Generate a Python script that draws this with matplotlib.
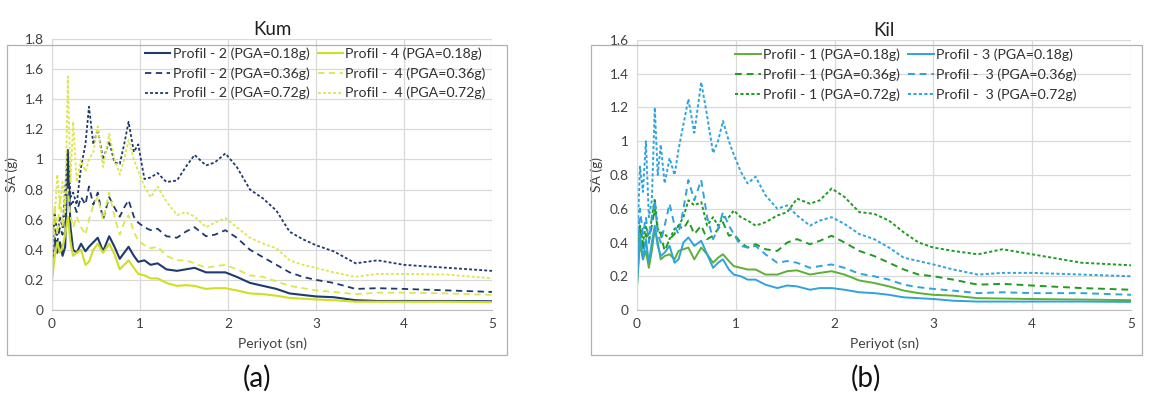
import matplotlib
matplotlib.use("Agg")
import matplotlib.pyplot as plt
import matplotlib.patches as patches

plt.rcParams['font.family'] = ['Lato', 'DejaVu Sans']

# periyot (sn)
periods = [0.00, 0.03, 0.06, 0.09, 0.12, 0.15, 0.18, 0.21, 0.24, 0.28,
           0.33, 0.38, 0.42, 0.47, 0.52, 0.58, 0.65, 0.71, 0.77, 0.82,
           0.87, 0.93, 0.98, 1.05, 1.12, 1.20, 1.30, 1.42, 1.52, 1.62,
           1.75, 1.85, 1.97, 2.10, 2.25, 2.40, 2.55, 2.70, 2.85, 3.00,
           3.20, 3.45, 3.70, 4.00, 4.50, 5.00]

# Kum
kum_p2_018 = [0.32, 0.48, 0.38, 0.45, 0.36, 0.42, 1.05, 0.55, 0.40, 0.38,
              0.44, 0.39, 0.42, 0.45, 0.48, 0.39, 0.49, 0.42, 0.34, 0.38,
              0.42, 0.36, 0.32, 0.33, 0.30, 0.31, 0.27, 0.26, 0.27, 0.28,
              0.25, 0.25, 0.25, 0.22, 0.18, 0.16, 0.14, 0.11, 0.10, 0.09,
              0.085, 0.065, 0.06, 0.06, 0.06, 0.058]
kum_p2_036 = [0.45, 0.60, 0.45, 0.55, 0.50, 0.70, 0.95, 0.70, 0.72, 0.65,
              0.75, 0.70, 0.82, 0.70, 0.78, 0.60, 0.75, 0.68, 0.62, 0.68,
              0.73, 0.62, 0.58, 0.55, 0.53, 0.54, 0.49, 0.48, 0.52, 0.55,
              0.49, 0.50, 0.53, 0.48, 0.40, 0.35, 0.30, 0.25, 0.22, 0.20,
              0.18, 0.14, 0.145, 0.14, 0.13, 0.12]
kum_p2_072 = [0.32, 0.65, 0.50, 0.62, 0.55, 0.80, 1.07, 0.75, 0.78, 0.70,
              0.95, 1.10, 1.35, 1.10, 1.20, 1.00, 1.12, 0.98, 0.97, 1.10,
              1.25, 1.05, 1.10, 0.87, 0.88, 0.91, 0.85, 0.86, 0.95, 1.03,
              0.96, 0.98, 1.04, 0.95, 0.80, 0.74, 0.66, 0.52, 0.47, 0.43,
              0.39, 0.31, 0.33, 0.30, 0.28, 0.26]
kum_p4_018 = [0.19, 0.35, 0.45, 0.38, 0.42, 0.50, 0.62, 0.45, 0.36, 0.38,
              0.40, 0.30, 0.32, 0.40, 0.44, 0.38, 0.44, 0.37, 0.27, 0.30,
              0.33, 0.28, 0.24, 0.23, 0.21, 0.21, 0.18, 0.16, 0.165, 0.16,
              0.14, 0.145, 0.145, 0.13, 0.11, 0.105, 0.095, 0.08, 0.075, 0.07,
              0.065, 0.055, 0.055, 0.055, 0.055, 0.052]
kum_p4_036 = [0.35, 0.70, 0.50, 0.75, 0.55, 0.72, 0.80, 0.62, 0.55, 0.62,
              0.55, 0.50, 0.60, 0.70, 0.75, 0.60, 0.78, 0.62, 0.50, 0.58,
              0.63, 0.52, 0.46, 0.43, 0.41, 0.42, 0.36, 0.33, 0.33, 0.31,
              0.28, 0.29, 0.30, 0.27, 0.23, 0.22, 0.19, 0.16, 0.145, 0.13,
              0.12, 0.105, 0.115, 0.115, 0.11, 0.10]
kum_p4_072 = [0.30, 0.60, 0.90, 0.70, 0.85, 0.65, 1.55, 0.85, 1.25, 0.85,
              1.00, 0.92, 1.00, 1.05, 1.22, 0.95, 1.17, 1.00, 0.90, 1.00,
              1.13, 1.00, 0.92, 0.82, 0.75, 0.82, 0.72, 0.63, 0.65, 0.62,
              0.55, 0.58, 0.61, 0.55, 0.48, 0.44, 0.41, 0.33, 0.30, 0.28,
              0.25, 0.22, 0.24, 0.24, 0.235, 0.21]

# Kil
kil_p1_018 = [0.14, 0.40, 0.30, 0.35, 0.25, 0.35, 0.48, 0.40, 0.30, 0.32,
              0.33, 0.30, 0.35, 0.36, 0.37, 0.30, 0.37, 0.33, 0.28, 0.31,
              0.33, 0.29, 0.26, 0.25, 0.24, 0.24, 0.21, 0.21, 0.23, 0.235,
              0.21, 0.22, 0.23, 0.21, 0.175, 0.16, 0.14, 0.115, 0.10, 0.09,
              0.085, 0.07, 0.068, 0.065, 0.062, 0.058]
kil_p1_036 = [0.25, 0.50, 0.35, 0.45, 0.40, 0.50, 0.60, 0.48, 0.45, 0.35,
              0.42, 0.45, 0.50, 0.48, 0.53, 0.45, 0.50, 0.42, 0.44, 0.48,
              0.52, 0.44, 0.45, 0.40, 0.37, 0.39, 0.36, 0.35, 0.40, 0.42,
              0.39, 0.41, 0.44, 0.40, 0.35, 0.32, 0.28, 0.24, 0.21, 0.20,
              0.18, 0.15, 0.155, 0.145, 0.13, 0.12]
kil_p1_072 = [0.20, 0.50, 0.40, 0.50, 0.42, 0.55, 0.66, 0.48, 0.46, 0.45,
              0.42, 0.48, 0.50, 0.55, 0.65, 0.62, 0.64, 0.50, 0.55, 0.50,
              0.55, 0.55, 0.59, 0.55, 0.53, 0.50, 0.52, 0.56, 0.58, 0.66,
              0.63, 0.65, 0.72, 0.67, 0.58, 0.57, 0.53, 0.46, 0.40, 0.37,
              0.35, 0.33, 0.36, 0.33, 0.28, 0.265]
kil_p3_018 = [0.15, 0.45, 0.30, 0.42, 0.28, 0.40, 0.50, 0.38, 0.32, 0.34,
              0.38, 0.28, 0.30, 0.40, 0.43, 0.38, 0.41, 0.33, 0.25, 0.28,
              0.30, 0.24, 0.21, 0.20, 0.18, 0.18, 0.15, 0.13, 0.145, 0.14,
              0.12, 0.13, 0.13, 0.12, 0.105, 0.10, 0.09, 0.075, 0.07, 0.065,
              0.055, 0.05, 0.05, 0.05, 0.05, 0.048]
kil_p3_036 = [0.30, 0.60, 0.45, 0.55, 0.40, 0.55, 0.65, 0.45, 0.40, 0.50,
              0.63, 0.50, 0.45, 0.60, 0.77, 0.65, 0.77, 0.55, 0.42, 0.48,
              0.58, 0.50, 0.45, 0.38, 0.37, 0.38, 0.33, 0.28, 0.29, 0.28,
              0.25, 0.26, 0.27, 0.25, 0.215, 0.20, 0.18, 0.15, 0.135, 0.125,
              0.115, 0.10, 0.105, 0.10, 0.10, 0.09]
kil_p3_072 = [0.35, 0.85, 0.70, 1.00, 0.55, 0.65, 1.20, 0.80, 0.98, 0.75,
              0.90, 0.80, 0.95, 1.10, 1.25, 1.05, 1.35, 1.15, 0.93, 1.00,
              1.12, 1.00, 0.92, 0.82, 0.75, 0.79, 0.68, 0.60, 0.62, 0.56,
              0.50, 0.53, 0.55, 0.51, 0.45, 0.42, 0.37, 0.31, 0.29, 0.27,
              0.24, 0.21, 0.22, 0.22, 0.21, 0.20]

NAVY = '#1f3a6e'
LIME = '#cfdf22'
LIME2 = '#dde64a'
GREEN = '#5cb034'
GREEN2 = '#1f9c1f'
BLUE = '#2ea3de'

styles = ['-', (0, (3.5, 2.5)), (0, (1.6, 1.2))]
pga = ['0.18', '0.36', '0.72']

fig = plt.figure(figsize=(11.5, 4), dpi=100)
W, H = 1150.0, 400.0

# panel frames
for x0, x1 in [(7, 507), (591, 1142)]:
    fig.patches.append(patches.Rectangle((x0 / W, 45 / H), (x1 - x0) / W, 310 / H,
                                         transform=fig.transFigure, fill=False,
                                         edgecolor='#b0b0b0', linewidth=0.9))


def setup(ax, ymax, title):
    ax.set_xlim(0, 5)
    ax.set_ylim(0, ymax)
    ax.set_xticks(range(6))
    n = int(round(ymax / 0.2)) + 1
    ax.set_yticks([i * 0.2 for i in range(n)])
    ax.set_yticklabels(['0' if i == 0 else ('%g' % round(i * 0.2, 1)) for i in range(n)])
    ax.grid(True, color='#d9d9d9', linewidth=0.9)
    ax.set_axisbelow(True)
    for s in ['top', 'right']:
        ax.spines[s].set_visible(False)
    ax.spines['left'].set_color('#d9d9d9')
    ax.spines['bottom'].set_color('#bfbfbf')
    ax.tick_params(length=0, labelsize=9.8, colors='#404040', pad=6)
    ax.set_xlabel('Periyot (sn)', fontsize=10, color='#404040', labelpad=5)
    ax.set_ylabel('SA (g)', fontsize=10, color='#404040', labelpad=5)
    ax.set_title(title, fontsize=13.5, color='#202020', pad=3)


leg_kw = dict(ncol=2, loc='upper right', frameon=False, fontsize=10.2,
              handlelength=1.8, handletextpad=0.15, columnspacing=0.6,
              labelspacing=0.5, labelcolor='#303030')

# (a) Kum
ax1 = fig.add_axes([52 / W, 90 / H, 440 / W, 271 / H])
setup(ax1, 1.8, 'Kum')
kum2 = [kum_p2_018, kum_p2_036, kum_p2_072]
kum4 = [kum_p4_018, kum_p4_036, kum_p4_072]
for i in range(3):
    ax1.plot(periods, kum2[i], color=NAVY, linestyle=styles[i], linewidth=1.5 if i == 0 else 1.3,
             label='Profil - 2 (PGA=%sg)' % pga[i])
for i in range(3):
    ax1.plot(periods, kum4[i], color=LIME if i == 0 else LIME2, linestyle=styles[i],
             linewidth=1.5 if i == 0 else 1.3,
             label=('Profil - 4 (PGA=%sg)' if i == 0 else 'Profil -  4 (PGA=%sg)') % pga[i])
ax1.legend(bbox_to_anchor=(1.015, 1.015), **leg_kw)

# (b) Kil
ax2 = fig.add_axes([637 / W, 90 / H, 494 / W, 270 / H])
setup(ax2, 1.6, 'Kil')
kil1 = [kil_p1_018, kil_p1_036, kil_p1_072]
kil3 = [kil_p3_018, kil_p3_036, kil_p3_072]
for i in range(3):
    ax2.plot(periods, kil1[i], color=GREEN if i == 0 else GREEN2, linestyle=styles[i],
             linewidth=1.4, label='Profil - 1 (PGA=%sg)' % pga[i])
for i in range(3):
    ax2.plot(periods, kil3[i], color=BLUE, linestyle=styles[i], linewidth=1.4,
             label=('Profil - 3 (PGA=%sg)' if i == 0 else 'Profil -  3 (PGA=%sg)') % pga[i])
ax2.legend(bbox_to_anchor=(0.915, 1.015), **leg_kw)

fig.text(257 / W, 1 - 378 / H, '(a)', fontsize=20, ha='center', va='center', color='#111111')
fig.text(866 / W, 1 - 378 / H, '(b)', fontsize=20, ha='center', va='center', color='#111111')

fig.savefig('out.png', dpi=100)
